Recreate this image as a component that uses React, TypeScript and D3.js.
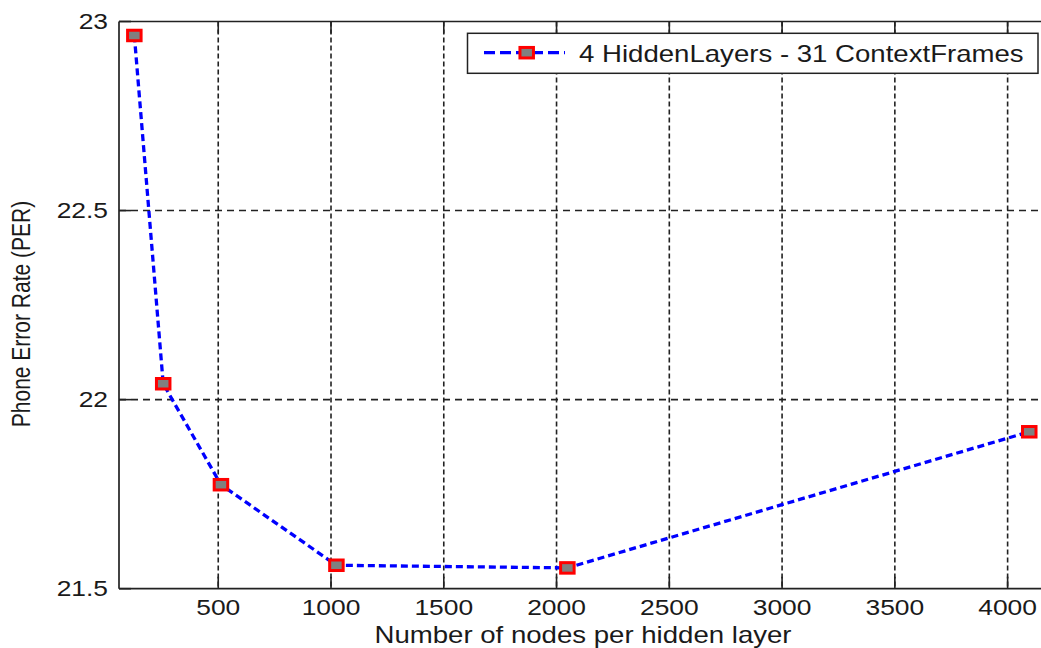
import React from 'react';
import * as d3 from 'd3';

// values
const nodesPerLayer = [128, 256, 512, 1024, 2048, 4096];
const phoneErrorRate = [22.963, 22.042, 21.775, 21.562, 21.555, 21.915];
const xTicks = [500, 1000, 1500, 2000, 2500, 3000, 3500, 4000];
const yTicks = [21.5, 22, 22.5, 23];
const yTickLabels = ['21.5', '22', '22.5', '23'];
const seriesName = '4 HiddenLayers - 31 ContextFrames';
const xTitle = 'Number of nodes per hidden layer';
const yTitle = 'Phone Error Rate (PER)';

const W = 1041;
const H = 648;
const FONT = '"Liberation Sans", Arial, sans-serif';
const SX = 1.2; // the reference is stretched sideways
const INK = '#1a1a1a';

const App = () => {
  const plot = { left: 119, top: 21.5, right: 1064, bottom: 588.7 };

  const x = d3.scaleLinear().domain([60, 4250]).range([plot.left, plot.right]);
  const y = d3.scaleLinear().domain([21.5, 23]).range([plot.bottom, plot.top]);

  const points = nodesPerLayer.map((n, i) => ({ n, v: phoneErrorRate[i] }));
  const line = d3.line<{ n: number; v: number }>()
    .x(d => x(d.n))
    .y(d => y(d.v));

  const tickLen = 12;
  const mW = 13.5;
  const mH = 10.5;

  // legend box
  const lg = { x0: 467.5, y0: 33.3, x1: 1038, y1: 73.3 };
  const lgY = 52.7;

  return (
    <svg width={W} height={H} style={{ position: 'absolute', left: 0, top: 0, display: 'block', background: '#fff' }}>
      <rect x={0} y={0} width={W} height={H} fill="#fff" />

      {/* grid */}
      {xTicks.map(t => (
        <line key={'gx' + t} x1={x(t)} x2={x(t)} y1={plot.top} y2={plot.bottom}
          stroke="#222" strokeWidth={1.6} strokeDasharray="5,3" />
      ))}
      {yTicks.filter(t => t > 21.5 && t < 23).map(t => (
        <line key={'gy' + t} x1={plot.left} x2={plot.right} y1={y(t)} y2={y(t)}
          stroke="#222" strokeWidth={1.6} strokeDasharray="7,5" />
      ))}

      {/* ticks */}
      {xTicks.map(t => (
        <g key={'tx' + t} stroke="#222" strokeWidth={1.6}>
          <line x1={x(t)} x2={x(t)} y1={plot.bottom} y2={plot.bottom - tickLen} />
          <line x1={x(t)} x2={x(t)} y1={plot.top} y2={plot.top + tickLen} />
        </g>
      ))}
      {yTicks.map(t => (
        <line key={'ty' + t} x1={plot.left} x2={plot.left + tickLen} y1={y(t)} y2={y(t)}
          stroke="#222" strokeWidth={1.6} />
      ))}

      {/* frame */}
      <line x1={plot.left} x2={plot.right} y1={plot.top} y2={plot.top} stroke="#222" strokeWidth={1.7} />
      <line x1={plot.left} x2={plot.right} y1={plot.bottom} y2={plot.bottom} stroke="#222" strokeWidth={1.7} />
      <line x1={plot.left} x2={plot.left} y1={plot.top} y2={plot.bottom} stroke="#222" strokeWidth={1.7} />

      {/* series */}
      <path d={line(points) || ''} fill="none" stroke="#0000ff" strokeWidth={3.3} strokeDasharray="7,4" />
      {points.map(p => (
        <rect key={'m' + p.n} x={x(p.n) - mW / 2} y={y(p.v) - mH / 2} width={mW} height={mH}
          fill="#808080" stroke="#ff0000" strokeWidth={3} />
      ))}

      {/* tick labels */}
      {xTicks.map(t => (
        <text key={'lx' + t} transform={`translate(${x(t)},${plot.bottom + 26.5}) scale(${SX},1)`}
          textAnchor="middle" fontFamily={FONT} fontSize={22} fill={INK}>{t}</text>
      ))}
      {yTicks.map((t, i) => (
        <text key={'ly' + t} transform={`translate(108,${y(t) + 7.5}) scale(${SX},1)`}
          textAnchor="end" fontFamily={FONT} fontSize={22} fill={INK}>{yTickLabels[i]}</text>
      ))}

      {/* axis titles */}
      <text transform={`translate(583,643) scale(${SX},1)`} textAnchor="middle"
        fontFamily={FONT} fontSize={23} fill={INK}>{xTitle}</text>
      <text transform={`translate(30,314) scale(${SX},1) rotate(-90)`} textAnchor="middle"
        fontFamily={FONT} fontSize={21} fill={INK}>{yTitle}</text>

      {/* legend */}
      <rect x={lg.x0} y={lg.y0} width={lg.x1 - lg.x0} height={lg.y1 - lg.y0}
        fill="#fff" stroke="#222" strokeWidth={1.5} />
      <line x1={484} x2={565} y1={lgY} y2={lgY} stroke="#0000ff" strokeWidth={3.3} strokeDasharray="11,5" />
      <rect x={526.7 - mW / 2} y={lgY - mH / 2} width={mW} height={mH}
        fill="#808080" stroke="#ff0000" strokeWidth={3} />
      <text transform={`translate(579,61.7) scale(${SX},1)`} fontFamily={FONT} fontSize={23} fill={INK}>
        {seriesName}
      </text>
    </svg>
  );
};

export default App;
